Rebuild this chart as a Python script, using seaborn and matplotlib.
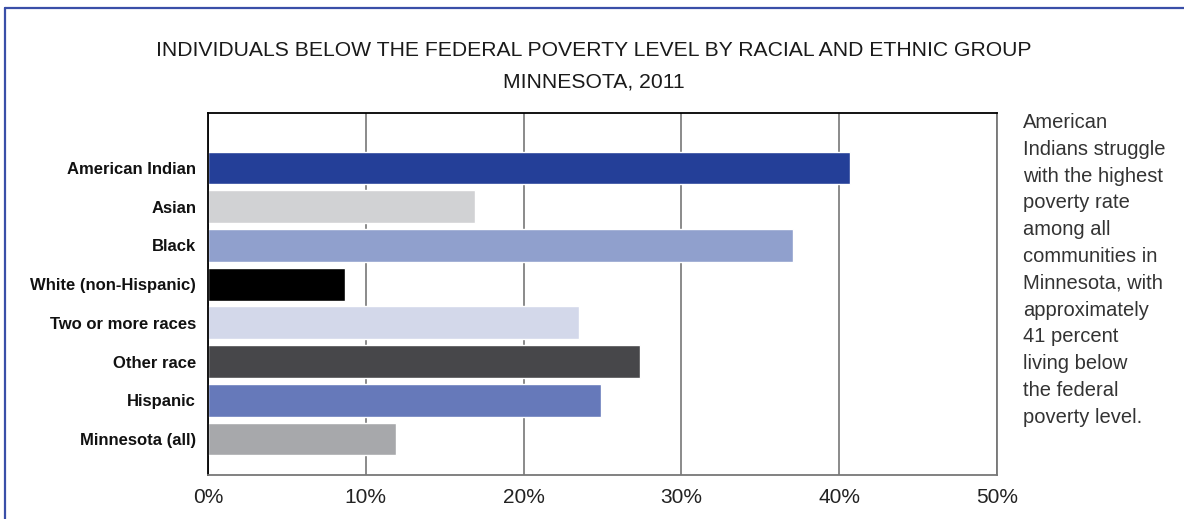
import pandas as pd
import matplotlib.pyplot as plt
import matplotlib.ticker as mticker
from matplotlib.lines import Line2D
import seaborn as sns

groups = ["American Indian", "Asian", "Black", "White (non-Hispanic)",
          "Two or more races", "Other race", "Hispanic", "Minnesota (all)"]
rates = [40.7, 16.9, 37.1, 8.7, 23.5, 27.4, 24.9, 11.9]
colors = ["#243F98", "#D1D2D4", "#90A0CD", "#000000",
          "#D3D8EA", "#47474A", "#6679BA", "#A7A8AB"]

df = pd.DataFrame({"group": groups, "rate": rates})

sns.set_style("white")
plt.rcParams["font.family"] = ["Liberation Sans", "DejaVu Sans"]

fig = plt.figure(figsize=(11.84, 5.19), dpi=100)
ax = fig.add_axes([208 / 1184, 1 - 475 / 519, 789 / 1184, 362 / 519])

sns.barplot(data=df, y="group", x="rate", hue="group", palette=colors,
            orient="h", width=0.85, legend=False, ax=ax, saturation=1)

ax.set_xlim(0, 50)
ax.set_ylim(7.93, -1.42)
ax.xaxis.set_major_locator(mticker.MultipleLocator(10))
ax.xaxis.set_major_formatter(mticker.FuncFormatter(lambda v, p: f"{v:.0f}%"))
ax.set_xlabel("")
ax.set_ylabel("")
ax.grid(axis="x", color="#777777", linewidth=1.2)
ax.set_axisbelow(True)
ax.tick_params(axis="y", left=False, pad=5)
ax.tick_params(axis="x", bottom=False, pad=6)
for lab in ax.get_xticklabels():
    lab.set_fontsize(15)
    lab.set_color("#222222")
for lab in ax.get_yticklabels():
    lab.set_fontweight("bold")
    lab.set_fontsize(12)
    lab.set_color("#111111")
ax.spines["left"].set_color("#000000")
ax.spines["top"].set_color("#000000")
ax.spines["right"].set_color("#777777")
ax.spines["bottom"].set_color("#777777")
for s in ax.spines.values():
    s.set_linewidth(1.3)

fig.text(594 / 1184, 1 - 50 / 519, "INDIVIDUALS BELOW THE FEDERAL POVERTY LEVEL BY RACIAL AND ETHNIC GROUP",
         ha="center", va="center", fontsize=15.2, color="#1a1a1a")
fig.text(594 / 1184, 1 - 82 / 519, "MINNESOTA, 2011",
         ha="center", va="center", fontsize=15.2, color="#1a1a1a")

note = ("American\nIndians struggle\nwith the highest\npoverty rate\namong all\n"
        "communities in\nMinnesota, with\napproximately\n41 percent\nliving below\n"
        "the federal\npoverty level.")
fig.text(1023 / 1184, 1 - 113 / 519, note, ha="left", va="top",
         fontsize=14.5, color="#333333", linespacing=1.52)

# frame around the chart
fig.add_artist(Line2D([5 / 1184, 1.01], [1 - 8 / 519, 1 - 8 / 519], color="#3A4FA8", lw=1.6))
fig.add_artist(Line2D([5 / 1184, 5 / 1184], [1 - 8 / 519, -0.01], color="#3A4FA8", lw=1.6))

plt.savefig("out.png", dpi=100)
